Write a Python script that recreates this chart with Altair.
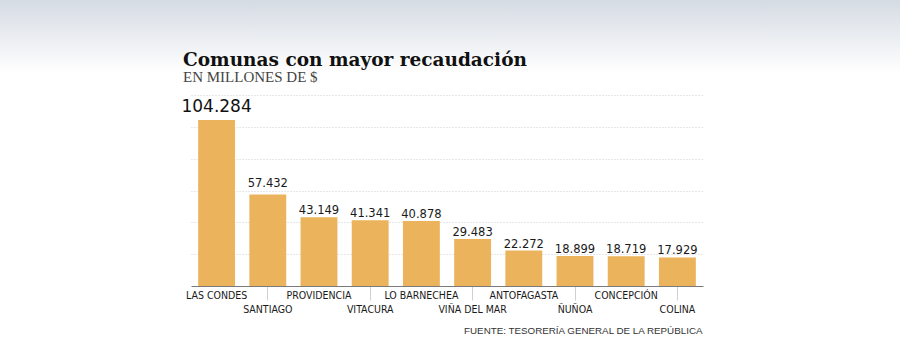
import json
import altair as alt
import pandas as pd

# ---- data ----
comunas = ["LAS CONDES", "SANTIAGO", "PROVIDENCIA", "VITACURA", "LO BARNECHEA",
           "VIÑA DEL MAR", "ANTOFAGASTA", "ÑUÑOA", "CONCEPCIÓN", "COLINA"]
recaudacion = [104284, 57432, 43149, 41341, 40878, 29483, 22272, 18899, 18719, 17929]
etiquetas = ["104.284", "57.432", "43.149", "41.341", "40.878",
             "29.483", "22.272", "18.899", "18.719", "17.929"]
grid_values = [20000, 40000, 60000, 80000, 100000, 120000]
fila_inferior = comunas[1::2]

titulo = "Comunas con mayor recaudación"
subtitulo = "EN MILLONES DE $"
fuente = "FUENTE: TESORERÍA GENERAL DE LA REPÚBLICA"

df = pd.DataFrame({"comuna": comunas, "valor": recaudacion, "etiqueta": etiquetas})
one_df = pd.DataFrame({"k": [0]})

COND = "DejaVu Sans Condensed, Liberation Sans Narrow, sans-serif"
lower_test = "indexof(" + json.dumps(fila_inferior, ensure_ascii=False) + ", datum.value) >= 0"

x_enc = alt.X(
    "comuna:N", sort=None,
    scale=alt.Scale(paddingInner=0.28, paddingOuter=0.14),
    axis=alt.Axis(
        title=fuente,
        titleX=511, titleY=47, titleAlign="right", titleBaseline="alphabetic", titleAngle=0,
        titleFont="Liberation Sans", titleFontSize=9.8, titleFontWeight="normal", titleColor="#333333",
        labelAngle=0, labelFont=COND, labelFontSize=10.5, labelColor="#1a1a1a",
        labelBaseline="top", labelPadding=4.5, labelOverlap=False, labelBound=False, labelFlush=False,
        tickSize={"condition": {"test": lower_test, "value": 14}, "value": 0},
        tickColor="#d0d0d0", tickWidth=1,
        domainColor="#7a7a7a", domainWidth=1, grid=False,
    ),
)
y_enc = alt.Y(
    "valor:Q",
    scale=alt.Scale(domain=[0, 120000], nice=False),
    axis=alt.Axis(values=grid_values, labels=False, ticks=False, domain=False, title=None,
                  grid=True, gridColor="#cfcfcf", gridDash=[1, 2], gridWidth=1),
)

bg = alt.Chart(one_df).mark_rect(
    color=alt.Gradient(
        gradient="linear",
        stops=[alt.GradientStop(color="#d5dbe3", offset=0),
               alt.GradientStop(color="#ffffff", offset=1)],
        x1=0, x2=0, y1=0, y2=1,
    )
).encode(x=alt.value(-191), x2=alt.value(709), y=alt.value(-95), y2=alt.value(-22))

title_mark = alt.Chart(one_df).mark_text(
    text=titulo, align="left", baseline="alphabetic",
    font="DejaVu Serif", fontSize=18.5, fontWeight="bold", color="#111111"
).encode(x=alt.value(-8), y=alt.value(-29))

subtitle_mark = alt.Chart(one_df).mark_text(
    text=subtitulo, align="left", baseline="alphabetic",
    font="Liberation Serif", fontSize=15, color="#444444"
).encode(x=alt.value(-8), y=alt.value(-13))

base = alt.Chart(df).encode(x=x_enc, y=y_enc)

bars = base.mark_bar(color="#ebb35b")

lab_small = base.transform_filter("datum.valor < 50000").mark_text(
    baseline="alphabetic", dy=-3, font=COND, fontSize=12.8, color="#1a1a1a"
).encode(text="etiqueta:N")

lab_mid = base.transform_filter("datum.valor >= 50000 && datum.valor < 100000").mark_text(
    baseline="alphabetic", dy=-8, font=COND, fontSize=12.8, color="#1a1a1a"
).encode(text="etiqueta:N")

lab_big = base.transform_filter("datum.valor >= 100000").mark_text(
    baseline="alphabetic", dy=-8, font="DejaVu Sans", fontSize=17, color="#111111"
).encode(text="etiqueta:N")

chart = alt.layer(bg, title_mark, subtitle_mark, bars, lab_small, lab_mid, lab_big).properties(
    width=512, height=191,
    autosize="none",
    background="#ffffff",
    padding={"left": 191, "top": 95, "right": 197, "bottom": 67},
).configure_view(stroke=None)

chart.save("out.html", embed_options={"renderer": "svg", "actions": False})
